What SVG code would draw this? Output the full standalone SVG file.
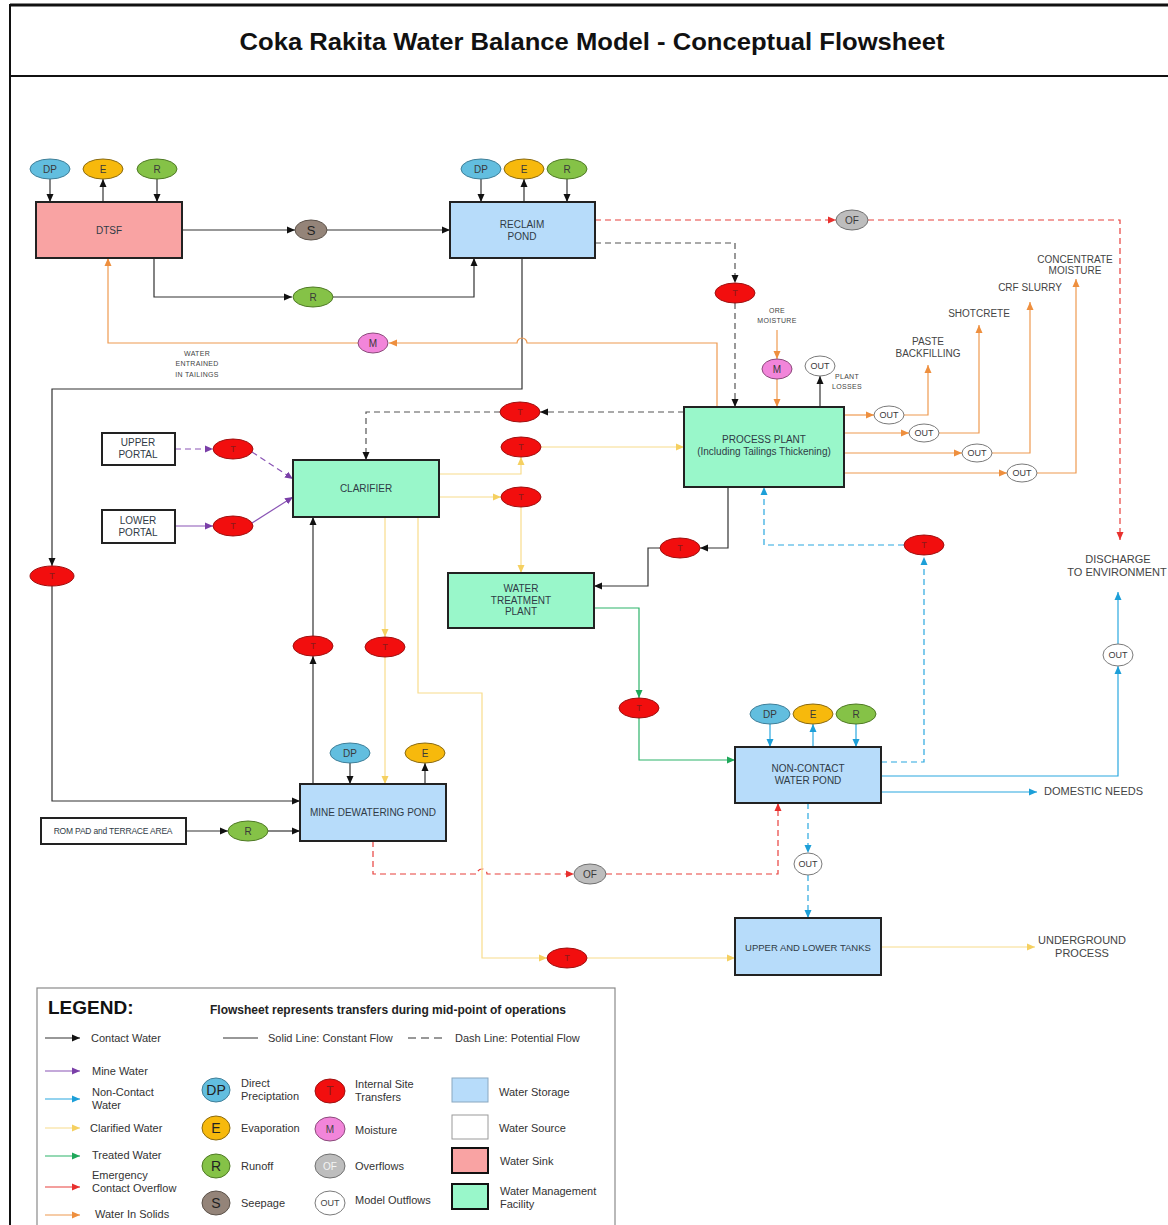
<svg xmlns="http://www.w3.org/2000/svg" width="1168" height="1225" viewBox="0 0 1168 1225">
  <style>
    text { font-family: "Liberation Sans", Arial, sans-serif; }
    .box { stroke: #222; stroke-width: 2; }
    .store { fill: #B7DCFA; }
    .mgmt { fill: #99F7CA; }
    .sink { fill: #F9A3A3; }
    .src { fill: #FFFFFF; }
    .lbl { font-size: 10px; fill: #2f3b46; text-anchor: middle; }
    .note { font-size: 7px; fill: #444; text-anchor: middle; letter-spacing: 0.3px; }
    .out-lbl { font-size: 10px; fill: #444; text-anchor: middle; }
    .big { font-size: 11px; }
    .el { font-size: 10px; fill: #3a3a3a; text-anchor: middle; }
    .el9 { font-size: 9px; fill: #3a3a3a; text-anchor: middle; }
    .tl { font-size: 9px; fill: #8b1a1a; text-anchor: middle; }
    .dp { fill: #62BEDF; stroke: #3f7f99; stroke-width: 1; }
    .ev { fill: #F7B90C; stroke: #8a6a10; stroke-width: 1; }
    .ro { fill: #85C247; stroke: #4f7a25; stroke-width: 1; }
    .se { fill: #948479; stroke: #5c524a; stroke-width: 1; }
    .tr { fill: #F20E0E; stroke: #a01010; stroke-width: 1; }
    .mo { fill: #F285DA; stroke: #8a4a7a; stroke-width: 1; }
    .of { fill: #BDBDBD; stroke: #707070; stroke-width: 1; }
    .ou { fill: #FFFFFF; stroke: #7a7a7a; stroke-width: 1; }
    .c { fill: none; stroke-width: 1.2; }
    .k { stroke: #333; marker-end: url(#ak); }
    .kd { stroke: #555; stroke-dasharray: 6 4; marker-end: url(#ak); }
    .rd { stroke: #E8403C; stroke-dasharray: 6 4; marker-end: url(#ar); }
    .o { stroke: #EE9A50; marker-end: url(#ao); }
    .p { stroke: #8A55B5; marker-end: url(#ap); }
    .pd { stroke: #8A55B5; stroke-dasharray: 6 4; marker-end: url(#ap); }
    .y { stroke: #F8DC8C; marker-end: url(#ay); }
    .g { stroke: #2DB36A; marker-end: url(#ag); }
    .b { stroke: #2AA8DF; marker-end: url(#ab); }
    .bd { stroke: #2AA8DF; stroke-dasharray: 6 4; marker-end: url(#ab); }
    .r { stroke: #E8403C; marker-end: url(#ar); }
    .leg { font-size: 11px; fill: #333; }
    .sym { font-size: 14px; fill: #222; text-anchor: middle; }
    .sym-s { font-size: 10px; fill: #444; text-anchor: middle; }
  </style>
  <defs>
    <marker id="ak" viewBox="0 0 8 8" refX="8" refY="4" markerWidth="8" markerHeight="8" markerUnits="userSpaceOnUse" orient="auto"><path d="M0,0.5 L8,4 L0,7.5 z" fill="#111"/></marker>
    <marker id="ar" viewBox="0 0 8 8" refX="8" refY="4" markerWidth="8" markerHeight="8" markerUnits="userSpaceOnUse" orient="auto"><path d="M0,0.5 L8,4 L0,7.5 z" fill="#E8302E"/></marker>
    <marker id="ao" viewBox="0 0 8 8" refX="8" refY="4" markerWidth="8" markerHeight="8" markerUnits="userSpaceOnUse" orient="auto"><path d="M0,0.5 L8,4 L0,7.5 z" fill="#EE8F3E"/></marker>
    <marker id="ap" viewBox="0 0 8 8" refX="8" refY="4" markerWidth="8" markerHeight="8" markerUnits="userSpaceOnUse" orient="auto"><path d="M0,0.5 L8,4 L0,7.5 z" fill="#7A3FA8"/></marker>
    <marker id="ay" viewBox="0 0 8 8" refX="8" refY="4" markerWidth="8" markerHeight="8" markerUnits="userSpaceOnUse" orient="auto"><path d="M0,0.5 L8,4 L0,7.5 z" fill="#F5D060"/></marker>
    <marker id="ag" viewBox="0 0 8 8" refX="8" refY="4" markerWidth="8" markerHeight="8" markerUnits="userSpaceOnUse" orient="auto"><path d="M0,0.5 L8,4 L0,7.5 z" fill="#1FA85A"/></marker>
    <marker id="ab" viewBox="0 0 8 8" refX="8" refY="4" markerWidth="8" markerHeight="8" markerUnits="userSpaceOnUse" orient="auto"><path d="M0,0.5 L8,4 L0,7.5 z" fill="#1C9FD8"/></marker>
  </defs>

  <!-- page frame and title band -->
  <rect x="0" y="0" width="1168" height="1225" fill="#FFFFFF"/>
  <rect x="10" y="5" width="1162" height="1225" fill="none" stroke="#111" stroke-width="2"/>
  <line x1="10" y1="5" x2="1168" y2="5" stroke="#111" stroke-width="3"/>
  <line x1="10" y1="76" x2="1168" y2="76" stroke="#111" stroke-width="2"/>
  <text x="592" y="50" font-size="24" font-weight="bold" fill="#111" text-anchor="middle" textLength="705" lengthAdjust="spacingAndGlyphs">Coka Rakita Water Balance Model - Conceptual Flowsheet</text>

  <!-- connectors -->
  <g id="connectors">
    <!-- contact water -->
    <path class="c k" d="M50,179 V202"/>
    <path class="c k" d="M103,202 V179"/>
    <path class="c k" d="M157,179 V202"/>
    <path class="c k" d="M182,230 H295"/>
    <path class="c k" d="M327,230 H450"/>
    <path class="c k" d="M154,258 V297 H292"/>
    <path class="c k" d="M333,297 H474 V258"/>
    <path class="c k" d="M481,179 V202"/>
    <path class="c k" d="M524,202 V179"/>
    <path class="c k" d="M567,179 V202"/>
    <path class="c k" d="M522,258 V389 H52 V566"/>
    <path class="c k" d="M52,586 V801 H300"/>
    <path class="c k" d="M186,831 H228"/>
    <path class="c k" d="M268,831 H300"/>
    <path class="c k" d="M313,784 V656"/>
    <path class="c k" d="M313,636 V517"/>
    <path class="c k" d="M350,763 V784"/>
    <path class="c k" d="M425,784 V763"/>
    <path class="c k" d="M728,487 V548 H700"/>
    <path class="c k" d="M660,548 H648 V586 H594"/>
    <path class="c k" d="M820,407 V376"/>
    <!-- contact water, potential -->
    <path class="c kd" d="M595,243 H735 V283"/>
    <path class="c kd" d="M735,303 V407"/>
    <path class="c kd" d="M684,412 H540"/>
    <path class="c kd" d="M500,412 H366 V460"/>
    <!-- emergency overflows -->
    <path class="c rd" d="M595,220 H836"/>
    <path class="c rd" d="M868,220 H1120 V540"/>
    <path class="c rd" d="M373,841 V874 H477 A5,5 0 0 1 487,874 H574"/>
    <path class="c rd" d="M606,874 H778 V803"/>
    <!-- water in solids; the tailings return hops over the reclaim pond line -->
    <path class="c o" d="M717,407 V343 H527 A5,5 0 0 0 517,343 H389"/>
    <path class="c o" d="M358,343 H108 V258"/>
    <path class="c o" d="M777,330 V359"/>
    <path class="c o" d="M777,379 V407"/>
    <path class="c o" d="M844,415 H874"/>
    <path class="c o" d="M904,415 H928 V365"/>
    <path class="c o" d="M844,433 H909"/>
    <path class="c o" d="M939,433 H979 V325"/>
    <path class="c o" d="M844,453 H962"/>
    <path class="c o" d="M992,453 H1030 V302"/>
    <path class="c o" d="M844,473 H1007"/>
    <path class="c o" d="M1037,473 H1076 V279"/>
    <!-- mine water -->
    <path class="c pd" d="M175,449 H213"/>
    <path class="c pd" d="M252,452 L293,479"/>
    <path class="c p" d="M175,526 H213"/>
    <path class="c p" d="M252,523 L293,497"/>
    <!-- clarified water -->
    <path class="c y" d="M439,474 H521 V457"/>
    <path class="c y" d="M541,447 H684"/>
    <path class="c y" d="M439,497 H501"/>
    <path class="c y" d="M521,507 V573"/>
    <path class="c y" d="M385,517 V637"/>
    <path class="c y" d="M385,657 V784"/>
    <path class="c y" d="M418,517 V693 H482 V958 H547"/>
    <path class="c y" d="M587,958 H735"/>
    <path class="c y" d="M881,947 H1035"/>
    <!-- treated water -->
    <path class="c g" d="M594,608 H639 V698"/>
    <path class="c g" d="M639,718 V760 H735"/>
    <!-- non-contact water -->
    <path class="c b" d="M770,724 V747"/>
    <path class="c b" d="M813,747 V724"/>
    <path class="c b" d="M856,724 V747"/>
    <path class="c b" d="M881,776 H1118 V666"/>
    <path class="c b" d="M1118,644 V592"/>
    <path class="c b" d="M881,792 H1037"/>
    <path class="c bd" d="M881,762 H924 V557"/>
    <path class="c bd" d="M904,545 H764 V487"/>
    <path class="c bd" d="M808,803 V853"/>
    <path class="c bd" d="M808,875 V918"/>
  </g>

  <!-- facilities -->
  <g id="dtsf">
    <rect class="box sink" x="36" y="202" width="146" height="56"/>
    <text class="lbl" x="109" y="234">DTSF</text>
  </g>
  <g id="reclaim-pond">
    <rect class="box store" x="450" y="202" width="145" height="56"/>
    <text class="lbl" x="522" y="228">RECLAIM</text>
    <text class="lbl" x="522" y="240">POND</text>
  </g>
  <g id="process-plant">
    <rect class="box mgmt" x="684" y="407" width="160" height="80"/>
    <text class="lbl" x="764" y="443">PROCESS PLANT</text>
    <text class="lbl" x="764" y="455">(Including Tailings Thickening)</text>
  </g>
  <g id="upper-portal">
    <rect class="box src" x="102" y="433" width="73" height="32"/>
    <text class="lbl" x="138" y="446">UPPER</text>
    <text class="lbl" x="138" y="458">PORTAL</text>
  </g>
  <g id="lower-portal">
    <rect class="box src" x="102" y="510" width="73" height="33"/>
    <text class="lbl" x="138" y="524">LOWER</text>
    <text class="lbl" x="138" y="536">PORTAL</text>
  </g>
  <g id="clarifier">
    <rect class="box mgmt" x="293" y="460" width="146" height="57"/>
    <text class="lbl" x="366" y="492">CLARIFIER</text>
  </g>
  <g id="water-treatment-plant">
    <rect class="box mgmt" x="448" y="573" width="146" height="55"/>
    <text class="lbl" x="521" y="592">WATER</text>
    <text class="lbl" x="521" y="604">TREATMENT</text>
    <text class="lbl" x="521" y="615">PLANT</text>
  </g>
  <g id="mine-dewatering-pond">
    <rect class="box store" x="300" y="784" width="146" height="57"/>
    <text class="lbl" x="373" y="816">MINE DEWATERING POND</text>
  </g>
  <g id="rom-pad">
    <rect class="box src" x="41" y="818" width="145" height="26"/>
    <text class="lbl" x="113" y="834" style="font-size:8.5px; letter-spacing:-0.2px">ROM PAD and TERRACE AREA</text>
  </g>
  <g id="non-contact-pond">
    <rect class="box store" x="735" y="747" width="146" height="56"/>
    <text class="lbl" x="808" y="772">NON-CONTACT</text>
    <text class="lbl" x="808" y="784">WATER POND</text>
  </g>
  <g id="upper-lower-tanks">
    <rect class="box store" x="735" y="918" width="146" height="57"/>
    <text class="lbl" x="808" y="951" style="font-size:9.5px">UPPER AND LOWER TANKS</text>
  </g>

  <!-- small flow nodes -->
  <g id="dtsf-dp"><ellipse class="dp" cx="50" cy="169" rx="20" ry="10"/><text class="el" x="50" y="173">DP</text></g>
  <g id="dtsf-e"><ellipse class="ev" cx="103" cy="169" rx="20" ry="10"/><text class="el" x="103" y="173">E</text></g>
  <g id="dtsf-r"><ellipse class="ro" cx="157" cy="169" rx="20" ry="10"/><text class="el" x="157" y="173">R</text></g>
  <g id="seepage"><ellipse class="se" cx="311" cy="230" rx="16" ry="10"/><text class="sym" x="311" y="235" style="font-size:13px">S</text></g>
  <g id="dtsf-runoff"><ellipse class="ro" cx="313" cy="297" rx="20" ry="10"/><text class="el" x="313" y="301">R</text></g>
  <g id="tailings-moisture"><ellipse class="mo" cx="373" cy="343" rx="15" ry="10"/><text class="el" x="373" y="347">M</text></g>
  <g id="reclaim-dp"><ellipse class="dp" cx="481" cy="169" rx="20" ry="10"/><text class="el" x="481" y="173">DP</text></g>
  <g id="reclaim-e"><ellipse class="ev" cx="524" cy="169" rx="20" ry="10"/><text class="el" x="524" y="173">E</text></g>
  <g id="reclaim-r"><ellipse class="ro" cx="567" cy="169" rx="20" ry="10"/><text class="el" x="567" y="173">R</text></g>
  <g id="reclaim-of"><ellipse class="of" cx="852" cy="220" rx="16" ry="10"/><text class="el" x="852" y="224">OF</text></g>
  <g id="t-reclaim-plant"><ellipse class="tr" cx="735" cy="293" rx="20" ry="10"/><text class="tl" x="735" y="296">T</text></g>
  <g id="ore-moisture"><ellipse class="mo" cx="777" cy="369" rx="15" ry="10"/><text class="el" x="777" y="373">M</text></g>
  <g id="plant-losses"><ellipse class="ou" cx="820" cy="366" rx="15" ry="10"/><text class="el9" x="820" y="369">OUT</text></g>
  <g id="out-paste"><ellipse class="ou" cx="889" cy="415" rx="15" ry="9"/><text class="el9" x="889" y="418">OUT</text></g>
  <g id="out-shotcrete"><ellipse class="ou" cx="924" cy="433" rx="15" ry="9"/><text class="el9" x="924" y="436">OUT</text></g>
  <g id="out-crf"><ellipse class="ou" cx="977" cy="453" rx="15" ry="9"/><text class="el9" x="977" y="456">OUT</text></g>
  <g id="out-concentrate"><ellipse class="ou" cx="1022" cy="473" rx="15" ry="9"/><text class="el9" x="1022" y="476">OUT</text></g>
  <g id="t-plant-clarifier"><ellipse class="tr" cx="520" cy="412" rx="20" ry="10"/><text class="tl" x="520" y="415">T</text></g>
  <g id="t-clarifier-plant"><ellipse class="tr" cx="521" cy="447" rx="20" ry="10"/><text class="tl" x="521" y="450">T</text></g>
  <g id="t-clarifier-wtp"><ellipse class="tr" cx="521" cy="497" rx="20" ry="10"/><text class="tl" x="521" y="500">T</text></g>
  <g id="t-upper-portal"><ellipse class="tr" cx="233" cy="449" rx="20" ry="10"/><text class="tl" x="233" y="452">T</text></g>
  <g id="t-lower-portal"><ellipse class="tr" cx="233" cy="526" rx="20" ry="10"/><text class="tl" x="233" y="529">T</text></g>
  <g id="t-reclaim-mine"><ellipse class="tr" cx="52" cy="576" rx="22" ry="10"/><text class="tl" x="52" y="579">T</text></g>
  <g id="t-plant-wtp"><ellipse class="tr" cx="680" cy="548" rx="20" ry="10"/><text class="tl" x="680" y="551">T</text></g>
  <g id="t-ncwp-plant"><ellipse class="tr" cx="924" cy="545" rx="20" ry="10"/><text class="tl" x="924" y="548">T</text></g>
  <g id="t-mine-clarifier"><ellipse class="tr" cx="313" cy="646" rx="20" ry="10"/><text class="tl" x="313" y="649">T</text></g>
  <g id="t-clarifier-mine"><ellipse class="tr" cx="385" cy="647" rx="20" ry="10"/><text class="tl" x="385" y="650">T</text></g>
  <g id="t-wtp-ncwp"><ellipse class="tr" cx="639" cy="708" rx="20" ry="10"/><text class="tl" x="639" y="711">T</text></g>
  <g id="t-tanks"><ellipse class="tr" cx="567" cy="958" rx="20" ry="10"/><text class="tl" x="567" y="961">T</text></g>
  <g id="mine-dp"><ellipse class="dp" cx="350" cy="753" rx="20" ry="10"/><text class="el" x="350" y="757">DP</text></g>
  <g id="mine-e"><ellipse class="ev" cx="425" cy="753" rx="20" ry="10"/><text class="el" x="425" y="757">E</text></g>
  <g id="rom-r"><ellipse class="ro" cx="248" cy="831" rx="20" ry="10"/><text class="el" x="248" y="835">R</text></g>
  <g id="mine-of"><ellipse class="of" cx="590" cy="874" rx="16" ry="10"/><text class="el" x="590" y="878">OF</text></g>
  <g id="ncwp-dp"><ellipse class="dp" cx="770" cy="714" rx="20" ry="10"/><text class="el" x="770" y="718">DP</text></g>
  <g id="ncwp-e"><ellipse class="ev" cx="813" cy="714" rx="20" ry="10"/><text class="el" x="813" y="718">E</text></g>
  <g id="ncwp-r"><ellipse class="ro" cx="856" cy="714" rx="20" ry="10"/><text class="el" x="856" y="718">R</text></g>
  <g id="out-discharge"><ellipse class="ou" cx="1118" cy="655" rx="15" ry="11"/><text class="el9" x="1118" y="658">OUT</text></g>
  <g id="out-tanks"><ellipse class="ou" cx="808" cy="864" rx="14" ry="11"/><text class="el9" x="808" y="867">OUT</text></g>

  <!-- destinations and notes -->
  <g id="notes">
    <text class="note" x="197" y="356">WATER</text>
    <text class="note" x="197" y="366">ENTRAINED</text>
    <text class="note" x="197" y="377">IN TAILINGS</text>
    <text class="note" x="777" y="313">ORE</text>
    <text class="note" x="777" y="323">MOISTURE</text>
    <text class="note" x="847" y="379">PLANT</text>
    <text class="note" x="847" y="389">LOSSES</text>
    <text class="out-lbl" x="928" y="345">PASTE</text>
    <text class="out-lbl" x="928" y="357">BACKFILLING</text>
    <text class="out-lbl" x="979" y="317">SHOTCRETE</text>
    <text class="out-lbl" x="1030" y="291">CRF SLURRY</text>
    <text class="out-lbl" x="1075" y="263">CONCENTRATE</text>
    <text class="out-lbl" x="1075" y="274">MOISTURE</text>
    <text class="out-lbl big" x="1118" y="563">DISCHARGE</text>
    <text class="out-lbl big" x="1117" y="576">TO ENVIRONMENT</text>
    <text class="out-lbl big" x="1044" y="795" style="text-anchor:start">DOMESTIC NEEDS</text>
    <text class="out-lbl big" x="1082" y="944">UNDERGROUND</text>
    <text class="out-lbl big" x="1082" y="957">PROCESS</text>
  </g>

  <!-- legend -->
  <g id="legend">
    <rect x="37" y="988" width="578" height="240" fill="#FFFFFF" stroke="#8a8a8a" stroke-width="1.2"/>
    <text x="48" y="1014" font-size="19" font-weight="bold" fill="#111">LEGEND:</text>
    <text x="210" y="1014" font-size="12" font-weight="bold" fill="#222">Flowsheet represents transfers during mid-point of operations</text>

    <path class="c k" d="M45,1038 H80"/>
    <text class="leg" x="91" y="1042">Contact Water</text>
    <line x1="223" y1="1038" x2="258" y2="1038" stroke="#333" stroke-width="1.2"/>
    <text class="leg" x="268" y="1042">Solid Line: Constant Flow</text>
    <line x1="408" y1="1038" x2="444" y2="1038" stroke="#333" stroke-width="1.2" stroke-dasharray="8 5"/>
    <text class="leg" x="455" y="1042">Dash Line: Potential Flow</text>

    <path class="c p" d="M45,1071 H80"/>
    <text class="leg" x="92" y="1075">Mine Water</text>
    <path class="c b" d="M45,1099 H80"/>
    <text class="leg" x="92" y="1096">Non-Contact</text>
    <text class="leg" x="92" y="1109">Water</text>
    <path class="c y" d="M45,1128 H80"/>
    <text class="leg" x="90" y="1132">Clarified Water</text>
    <path class="c g" d="M45,1156 H80"/>
    <text class="leg" x="92" y="1159">Treated Water</text>
    <path class="c r" d="M45,1187 H80"/>
    <text class="leg" x="92" y="1179">Emergency</text>
    <text class="leg" x="92" y="1192">Contact Overflow</text>
    <path class="c o" d="M45,1215 H80"/>
    <text class="leg" x="95" y="1218">Water In Solids</text>

    <ellipse class="dp" cx="216" cy="1090" rx="14" ry="12"/>
    <text class="sym" x="216" y="1095">DP</text>
    <text class="leg" x="241" y="1087">Direct</text>
    <text class="leg" x="241" y="1100">Preciptation</text>
    <ellipse class="ev" cx="216" cy="1128" rx="14" ry="12"/>
    <text class="sym" x="216" y="1133">E</text>
    <text class="leg" x="241" y="1132">Evaporation</text>
    <ellipse class="ro" cx="216" cy="1166" rx="14" ry="12"/>
    <text class="sym" x="216" y="1171">R</text>
    <text class="leg" x="241" y="1170">Runoff</text>
    <ellipse class="se" cx="216" cy="1203" rx="14" ry="12"/>
    <text class="sym" x="216" y="1208">S</text>
    <text class="leg" x="241" y="1207">Seepage</text>

    <ellipse class="tr" cx="330" cy="1091" rx="15" ry="12"/>
    <text class="sym" x="330" y="1095" style="font-size:12px; fill:#8b1a1a">T</text>
    <text class="leg" x="355" y="1088">Internal Site</text>
    <text class="leg" x="355" y="1101">Transfers</text>
    <ellipse class="mo" cx="330" cy="1129" rx="15" ry="12"/>
    <text class="sym-s" x="330" y="1133">M</text>
    <text class="leg" x="355" y="1134">Moisture</text>
    <ellipse class="of" cx="330" cy="1166" rx="15" ry="12"/>
    <text class="sym-s" x="330" y="1170" style="fill:#f4f4f4">OF</text>
    <text class="leg" x="355" y="1170">Overflows</text>
    <ellipse class="ou" cx="330" cy="1203" rx="15" ry="12"/>
    <text class="sym-s" x="330" y="1206" style="font-size:9px">OUT</text>
    <text class="leg" x="355" y="1204">Model Outflows</text>

    <rect x="452" y="1078" width="36" height="24" class="store" stroke="#8aa8c0" stroke-width="1"/>
    <text class="leg" x="499" y="1096">Water Storage</text>
    <rect x="452" y="1115" width="36" height="24" fill="#FFFFFF" stroke="#9a9a9a" stroke-width="1"/>
    <text class="leg" x="499" y="1132">Water Source</text>
    <rect x="452" y="1148" width="36" height="25" class="sink" stroke="#111" stroke-width="2"/>
    <text class="leg" x="500" y="1165">Water Sink</text>
    <rect x="452" y="1184" width="36" height="25" class="mgmt" stroke="#111" stroke-width="2"/>
    <text class="leg" x="500" y="1195">Water Management</text>
    <text class="leg" x="500" y="1208">Facility</text>
  </g>
</svg>
